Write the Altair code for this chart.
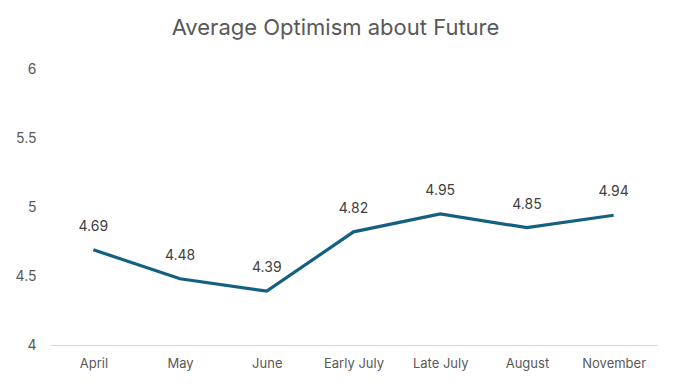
import altair as alt
import pandas as pd

months = ["April", "May", "June", "Early July", "Late July", "August", "November"]
values = [4.69, 4.48, 4.39, 4.82, 4.95, 4.85, 4.94]

df = pd.DataFrame({"month": months, "value": values, "label": [f"{v:.2f}" for v in values]})

FONT = "Inter"
x = alt.X("month:N", sort=months, title=None,
          scale=alt.Scale(paddingInner=0, paddingOuter=0.5),
          axis=alt.Axis(labelAngle=0, ticks=False, domainColor="#d9d9d9", domainWidth=1,
                        labelColor="#595959", labelFontSize=13, labelPadding=12, labelFont=FONT))
y = alt.Y("value:Q", title=None,
          scale=alt.Scale(domain=[4, 6], nice=False, zero=False),
          axis=alt.Axis(values=[4, 4.5, 5, 5.5, 6], format="~g", grid=False, domain=False, ticks=False,
                        labelColor="#595959", labelFontSize=14, labelPadding=14, labelFont=FONT))

line = alt.Chart(df).mark_line(color="#156082", strokeWidth=3.2).encode(x=x, y=y)
text = alt.Chart(df).mark_text(dy=-23, fontSize=14, color="#404040", font=FONT).encode(
    x=alt.X("month:N", sort=months), y="value:Q", text="label:N")

chart = alt.layer(line, text).properties(
    width=607, height=276,
    autosize=alt.AutoSizeParams(type="none"),
    padding={"left": 42, "top": 61, "right": 8, "bottom": 36},
    title=alt.TitleParams("Average Optimism about Future", fontSize=22, font=FONT,
                          fontWeight="normal", color="#595959", offset=22, dx=-18),
).configure_view(stroke=None)

chart.save("out.html", embed_options={"renderer": "svg", "actions": False})
